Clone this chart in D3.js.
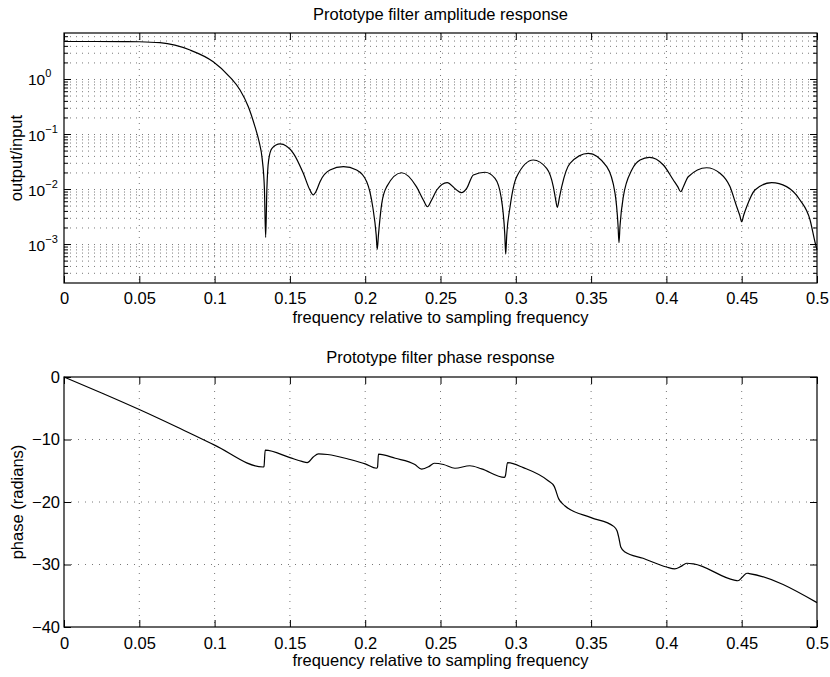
<!DOCTYPE html>
<meta charset="utf-8">
<script src="https://d3js.org/d3.v7.min.js"></script>
<style>
  body { margin: 0; background: #fff; }
  text { font-family: "Liberation Sans", Arial, Helvetica, sans-serif; fill: #000; }
</style>
<svg id="chart" width="830" height="677"></svg>
<script>

  // x ticks shared by both panels
  var xTicks = [0, 0.05, 0.1, 0.15, 0.2, 0.25, 0.3, 0.35, 0.4, 0.45, 0.5];

  // amplitude response
  var ampFreq = [0, 0.02, 0.04, 0.05, 0.0637, 0.0837, 0.0991, 0.110, 0.1169, 0.1224, 0.1268, 0.1295, 0.1316, 0.1331, 0.1339, 0.1347, 0.1359, 0.1381,
    0.1434, 0.1523, 0.1589, 0.1633, 0.1655, 0.1678, 0.170, 0.1766, 0.1855, 0.1943, 0.201, 0.205, 0.2073, 0.208, 0.2088, 0.211, 0.2143,
    0.2242, 0.234, 0.2386, 0.2413, 0.2441, 0.2475, 0.2544, 0.2607, 0.264, 0.2674, 0.2718, 0.2795, 0.2862, 0.2902, 0.2927, 0.2933, 0.294,
    0.2962, 0.3006, 0.3116, 0.3205, 0.3249, 0.3262, 0.3276, 0.329, 0.3305, 0.336, 0.3481, 0.3604, 0.3659, 0.3679, 0.3685, 0.3692, 0.3714,
    0.377, 0.3825, 0.3887, 0.398, 0.4046, 0.4075, 0.4095, 0.4115, 0.4145, 0.4267, 0.4356, 0.4422, 0.4467, 0.4487, 0.45, 0.4513, 0.4533,
    0.4588, 0.4699, 0.4798, 0.4887, 0.4954, 0.4987, 0.5];
  var ampValue = [4.9, 4.9, 4.88, 4.85, 4.66, 3.43, 2.1, 1.12, 0.644, 0.32, 0.139, 0.075, 0.036, 0.01, 0.00135, 0.01, 0.0344, 0.0561,
    0.0673, 0.0455, 0.0197, 0.0098, 0.0080, 0.0098, 0.0139, 0.0226, 0.026, 0.0226, 0.0139, 0.00486, 0.0015, 0.00082, 0.0015, 0.0056, 0.0113,
    0.0202, 0.0113, 0.00646, 0.00486, 0.00646, 0.0098, 0.0134, 0.0098, 0.00875, 0.0105, 0.0184, 0.0206, 0.0159, 0.0074, 0.0015, 0.00067, 0.0015,
    0.00486, 0.0171, 0.0344, 0.0243, 0.0113, 0.0072, 0.00474, 0.0072, 0.0113, 0.0299, 0.0455, 0.026, 0.0085, 0.0022, 0.00108, 0.0022, 0.0074,
    0.0226, 0.0344, 0.0385, 0.0279, 0.0149, 0.0113, 0.00912, 0.0116, 0.0171, 0.0249, 0.0198, 0.0113, 0.00486, 0.0034, 0.0026, 0.0034, 0.00486,
    0.0098, 0.0134, 0.0113, 0.00646, 0.00279, 0.0011, 0.0008];

  // phase response in radians
  var phaseFreq = [0, 0.025, 0.05, 0.075, 0.1, 0.1323, 0.1328, 0.1336, 0.15, 0.158, 0.1615, 0.1655, 0.169, 0.175, 0.19, 0.2, 0.2075, 0.2082,
    0.2088, 0.22, 0.233, 0.2375, 0.2425, 0.2458, 0.252, 0.2596, 0.2695, 0.2773, 0.2925, 0.2931, 0.2945, 0.305, 0.3215, 0.3255, 0.3285, 0.3325,
    0.35, 0.365, 0.3672, 0.3685, 0.3697, 0.3725, 0.3845, 0.40, 0.4055, 0.4097, 0.4135, 0.418, 0.445, 0.4475, 0.4505, 0.4535, 0.455, 0.5];
  var phaseValue = [0, -2.55, -5.2, -8.0, -10.9, -14.4, -14.3, -11.7, -12.9, -13.5, -13.7, -12.8, -12.3, -12.4, -13.2, -13.9, -14.6, -14.4,
    -12.35, -13.0, -14.0, -14.75, -14.3, -13.8, -14.0, -14.6, -14.2, -14.7, -16.05, -15.8, -13.7, -14.5, -16.6, -17.5, -19.5, -20.6,
    -22.5, -23.9, -24.6, -25.8, -27.2, -28.0, -29.0, -30.4, -30.7, -30.3, -29.8, -29.9, -32.5, -32.6, -32.0, -31.4, -31.45, -36.1];

  var phaseTicks = [0, -10, -20, -30, -40];
  var ampDomain = [2e-4, 7];

  var svg = d3.select("#chart");
  var left = 64, right = 817;
  var fontSize = "16.5px";

  var x = d3.scaleLinear().domain([0, 0.5]).range([left, right]);

  // ---------- top panel: amplitude ----------
  var topY0 = 33, topY1 = 283;
  var yAmp = d3.scaleLog().domain(ampDomain).range([topY1, topY0]);

  var decades = [1e-3, 1e-2, 1e-1, 1e0];
  var minorVals = [];
  [-4, -3, -2, -1, 0].forEach(function(e) {
    for (var k = 1; k <= 9; k++) {
      var v = k * Math.pow(10, e);
      if (v > ampDomain[0] && v < ampDomain[1]) minorVals.push(v);
    }
  });

  var gTop = svg.append("g");

  // grid
  gTop.selectAll(".hgrid").data(minorVals).enter().append("line")
    .attr("x1", left).attr("x2", right)
    .attr("y1", function(d) { return yAmp(d); }).attr("y2", function(d) { return yAmp(d); })
    .attr("stroke", "#555").attr("stroke-width", 0.8).attr("stroke-dasharray", "1,5");
  gTop.selectAll(".vgrid").data(xTicks.slice(1, -1)).enter().append("line")
    .attr("x1", function(d) { return x(d); }).attr("x2", function(d) { return x(d); })
    .attr("y1", topY0).attr("y2", topY1)
    .attr("stroke", "#555").attr("stroke-width", 0.8).attr("stroke-dasharray", "1,5");

  // minor ticks on the log axis, left and right
  gTop.selectAll(".mtickL").data(minorVals).enter().append("line")
    .attr("x1", left).attr("x2", function(d) { return left + (decades.indexOf(d) >= 0 ? 7 : 4); })
    .attr("y1", function(d) { return yAmp(d); }).attr("y2", function(d) { return yAmp(d); })
    .attr("stroke", "#000");
  gTop.selectAll(".mtickR").data(minorVals).enter().append("line")
    .attr("x1", right).attr("x2", function(d) { return right - (decades.indexOf(d) >= 0 ? 7 : 4); })
    .attr("y1", function(d) { return yAmp(d); }).attr("y2", function(d) { return yAmp(d); })
    .attr("stroke", "#000");

  // x axes
  gTop.append("g").attr("transform", "translate(0," + topY1 + ")")
    .call(d3.axisBottom(x).tickValues(xTicks).tickSize(-7).tickPadding(9).tickFormat(function(d) { return String(d); }));
  gTop.append("g").attr("transform", "translate(0," + topY0 + ")")
    .call(d3.axisTop(x).tickValues(xTicks).tickSize(-7).tickFormat(""));

  // decade labels with superscripts
  var labs = gTop.selectAll(".ylab").data(decades).enter().append("text")
    .attr("x", 28).attr("y", function(d) { return yAmp(d) + 6; })
    .attr("text-anchor", "start").style("font-size", "15.5px");
  labs.append("tspan").text("10");
  labs.append("tspan").attr("dy", -8).style("font-size", "11px")
    .text(function(d) { var e = Math.round(Math.log10(d)); return e < 0 ? "\u2212" + (-e) : String(e); });

  // curve
  var ampData = ampFreq.map(function(f, i) { return [f, ampValue[i]]; });
  gTop.append("path").datum(ampData)
    .attr("fill", "none").attr("stroke", "#000").attr("stroke-width", 1.2)
    .attr("d", d3.line().x(function(d) { return x(d[0]); }).y(function(d) { return yAmp(d[1]); }).curve(d3.curveMonotoneX));

  gTop.append("rect").attr("x", left).attr("y", topY0).attr("width", right - left).attr("height", topY1 - topY0)
    .attr("fill", "none").attr("stroke", "#000").attr("stroke-width", 1.2);

  gTop.append("text").attr("x", (left + right) / 2).attr("y", 20).attr("text-anchor", "middle")
    .style("font-size", fontSize).text("Prototype filter amplitude response");
  gTop.append("text").attr("x", (left + right) / 2).attr("y", 323).attr("text-anchor", "middle")
    .style("font-size", fontSize).text("frequency relative to sampling frequency");
  gTop.append("text").attr("transform", "translate(22," + (topY0 + topY1) / 2 + ") rotate(-90)")
    .attr("text-anchor", "middle").style("font-size", fontSize).text("output/input");

  // ---------- bottom panel: phase ----------
  var botY0 = 377, botY1 = 627;
  var yPh = d3.scaleLinear().domain([-40, 0]).range([botY1, botY0]);
  var gBot = svg.append("g");

  gBot.selectAll(".hgrid").data(phaseTicks.slice(1, -1)).enter().append("line")
    .attr("x1", left).attr("x2", right)
    .attr("y1", function(d) { return yPh(d); }).attr("y2", function(d) { return yPh(d); })
    .attr("stroke", "#555").attr("stroke-width", 0.8).attr("stroke-dasharray", "1,6");
  gBot.selectAll(".vgrid").data(xTicks.slice(1, -1)).enter().append("line")
    .attr("x1", function(d) { return x(d); }).attr("x2", function(d) { return x(d); })
    .attr("y1", botY0).attr("y2", botY1)
    .attr("stroke", "#555").attr("stroke-width", 0.8).attr("stroke-dasharray", "1,6");

  gBot.append("g").attr("transform", "translate(0," + botY1 + ")")
    .call(d3.axisBottom(x).tickValues(xTicks).tickSize(-7).tickPadding(10).tickFormat(function(d) { return String(d); }));
  gBot.append("g").attr("transform", "translate(0," + botY0 + ")")
    .call(d3.axisTop(x).tickValues(xTicks).tickSize(-7).tickFormat(""));
  gBot.append("g").attr("transform", "translate(" + left + ",0)")
    .call(d3.axisLeft(yPh).tickValues(phaseTicks).tickSize(-7).tickPadding(4).tickFormat(d3.format("d")));
  gBot.append("g").attr("transform", "translate(" + right + ",0)")
    .call(d3.axisRight(yPh).tickValues(phaseTicks).tickSize(-7).tickFormat(""));

  var phData = phaseFreq.map(function(f, i) { return [f, phaseValue[i]]; });
  gBot.append("path").datum(phData)
    .attr("fill", "none").attr("stroke", "#000").attr("stroke-width", 1.2)
    .attr("d", d3.line().x(function(d) { return x(d[0]); }).y(function(d) { return yPh(d[1]); }).curve(d3.curveMonotoneX));

  gBot.append("rect").attr("x", left).attr("y", botY0).attr("width", right - left).attr("height", botY1 - botY0)
    .attr("fill", "none").attr("stroke", "#000").attr("stroke-width", 1.2);

  gBot.append("text").attr("x", (left + right) / 2).attr("y", 363).attr("text-anchor", "middle")
    .style("font-size", fontSize).text("Prototype filter phase response");
  gBot.append("text").attr("x", (left + right) / 2).attr("y", 666).attr("text-anchor", "middle")
    .style("font-size", fontSize).text("frequency relative to sampling frequency");
  gBot.append("text").attr("transform", "translate(23," + (botY0 + botY1) / 2 + ") rotate(-90)")
    .attr("text-anchor", "middle").style("font-size", fontSize).text("phase (radians)");

  // axis styling
  svg.selectAll(".domain").remove();
  svg.selectAll(".tick line").attr("stroke", "#000");
  svg.selectAll(".tick text").style("font-size", fontSize).style("font-family", "'Liberation Sans', Arial, sans-serif").attr("fill", "#000");

</script>
